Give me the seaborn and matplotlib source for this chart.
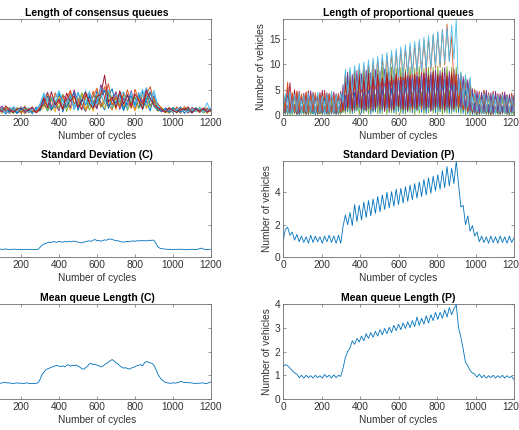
import matplotlib
matplotlib.use("Agg")
import matplotlib.pyplot as plt
import numpy as np
import pandas as pd
import seaborn as sns

# MATLAB default line colours
colors = {
    "blue": "#0072BD", "orange": "#D95319", "yellow": "#EDB120",
    "purple": "#7E2F8E", "green": "#77AC30", "cyan": "#4DBEEE", "red": "#A2142F",
}

# ---- proportional queues, one vertex every 12 cycles (peak / trough) ----
prop_green2 = [1.5, 0.1, 1.8, 0.0, 1.4, 0.2, 1.7, 0.0, 1.3, 0.1, 1.9, 0.0, 1.5, 0.2, 1.6, 0.0, 1.4, 0.1, 1.8, 0.0, 1.5, 0.2, 1.7, 0.0, 1.3, 0.1,
               2.5, 0.3, 3.5, 0.2, 3.2, 0.4, 3.8, 0.1, 3.4, 0.3, 4.0, 0.2, 3.6, 0.5, 4.1, 0.2, 3.7, 0.3, 4.2, 0.1, 3.9, 0.4, 4.3, 0.2,
               3.8, 0.3, 4.4, 0.2, 4.0, 0.5, 4.5, 0.1, 4.1, 0.3, 4.6, 0.2, 4.2, 0.4, 4.7, 0.3, 4.3, 0.2, 4.8, 0.1, 4.4, 0.3, 4.9, 0.2, 4.5, 0.4,
               4.3, 0.2, 4.0, 0.1, 3.5, 0.0, 1.8, 0.1, 1.6, 0.0, 1.4, 0.2, 1.7, 0.0, 1.5, 0.1, 1.3, 0.0, 1.6, 0.2, 1.4, 0.0, 1.5, 0.1, 1.2]
prop_blue2 = [0.2, 2.0, 0.1, 1.8, 0.3, 2.2, 0.0, 1.6, 0.2, 1.9, 0.1, 2.1, 0.3, 1.7, 0.0, 2.0, 0.2, 1.8, 0.1, 2.3, 0.0, 1.9, 0.2, 1.7, 0.1, 2.0,
              0.5, 4.0, 0.6, 5.0, 0.3, 4.6, 0.8, 5.3, 0.4, 4.8, 0.7, 5.5, 0.2, 5.0, 0.6, 5.6, 0.3, 5.2, 0.8, 5.8, 0.5, 5.4, 0.4, 5.9,
              0.7, 5.5, 0.3, 6.0, 0.6, 5.7, 0.4, 6.1, 0.8, 5.6, 0.5, 6.2, 0.3, 5.9, 0.7, 6.3, 0.4, 6.0, 0.6, 6.4, 0.5, 6.1, 0.3, 6.5, 0.6, 6.2,
              0.5, 5.5, 0.3, 5.0, 0.2, 4.2, 0.1, 2.5, 0.0, 2.2, 0.2, 1.9, 0.1, 2.1, 0.0, 1.8, 0.2, 2.0, 0.1, 1.7, 0.3, 1.9, 0.0, 2.1, 0.1]
prop_yellow = [1.5, 3.0, 0.4, 2.8, 0.2, 3.2, 0.5, 2.6, 0.3, 3.0, 0.4, 2.7, 0.2, 3.1, 0.5, 2.5, 0.3, 2.9, 0.4, 3.3, 0.2, 2.8, 0.5, 3.0, 0.3, 2.6,
               0.8, 5.5, 1.5, 6.0, 1.2, 6.4, 1.8, 5.8, 1.4, 6.6, 2.0, 6.2, 1.6, 6.9, 1.3, 6.5, 1.9, 7.1, 1.5, 6.7, 2.2, 7.3, 1.7, 6.8,
               1.4, 7.5, 2.0, 7.0, 1.6, 7.6, 2.3, 7.2, 1.8, 7.8, 1.5, 7.4, 2.1, 8.0, 1.7, 7.6, 2.4, 8.2, 1.9, 7.7, 1.6, 8.3, 2.2, 7.9, 1.8, 8.1,
               2.0, 7.5, 1.5, 6.8, 1.0, 5.5, 0.6, 3.5, 0.3, 3.2, 0.5, 3.0, 0.2, 3.3, 0.4, 2.9, 0.3, 3.1, 0.5, 2.8, 0.2, 3.0, 0.4, 2.7, 0.3]
prop_green = [0.8, 2.2, 0.3, 2.5, 0.1, 2.0, 0.4, 2.4, 0.2, 2.1, 0.3, 2.6, 0.1, 2.3, 0.4, 2.0, 0.2, 2.5, 0.3, 2.2, 0.1, 2.4, 0.3, 2.1, 0.2, 2.3,
              0.5, 8.0, 1.0, 8.8, 1.4, 9.0, 1.1, 8.7, 1.6, 9.2, 1.3, 8.9, 1.7, 9.3, 1.2, 9.0, 1.5, 9.4, 1.1, 9.1, 1.8, 9.5, 1.4, 9.2,
              1.6, 9.4, 1.3, 9.0, 1.7, 9.5, 1.2, 9.3, 1.5, 9.6, 1.4, 9.2, 1.8, 9.5, 1.3, 9.4, 1.6, 9.7, 1.2, 9.3, 1.5, 9.6, 1.7, 9.4, 1.4, 9.5,
              1.5, 8.5, 1.2, 8.0, 0.9, 7.2, 0.6, 4.0, 0.3, 3.6, 0.2, 3.3, 0.4, 3.5, 0.1, 3.2, 0.3, 3.4, 0.2, 3.1, 0.4, 3.3, 0.1, 3.0, 0.2]
prop_blue = [3.5, 0.5, 4.0, 0.3, 3.2, 0.6, 3.6, 0.2, 3.0, 0.5, 3.8, 0.4, 3.3, 0.2, 3.7, 0.6, 2.9, 0.3, 3.4, 0.5, 3.9, 0.2, 3.1, 0.4, 3.6, 0.5,
             4.5, 1.0, 7.0, 1.5, 6.5, 1.2, 7.2, 1.8, 6.8, 1.0, 7.5, 1.6, 6.9, 1.3, 7.4, 2.0, 6.6, 1.4, 7.8, 1.7, 7.0, 1.1, 7.6, 1.9,
             6.8, 1.5, 7.3, 1.2, 7.9, 1.8, 7.1, 1.4, 7.7, 2.0, 6.9, 1.6, 7.5, 1.3, 8.0, 1.9, 7.2, 1.5, 7.8, 2.1, 7.0, 1.4, 7.6, 1.8, 7.3, 1.6,
             7.5, 1.5, 7.0, 1.2, 6.5, 0.8, 4.5, 0.5, 4.0, 0.4, 3.8, 0.6, 4.2, 0.3, 3.6, 0.5, 4.0, 0.4, 3.5, 0.6, 3.9, 0.3, 3.4, 0.5, 3.6]
prop_orange2 = [0.6, 3.8, 0.4, 3.5, 0.7, 3.9, 0.3, 3.4, 0.5, 3.7, 0.2, 3.3, 0.6, 3.8, 0.4, 3.6, 0.3, 3.2, 0.5, 3.9, 0.2, 3.5, 0.4, 3.7, 0.6, 3.4,
                0.9, 6.0, 1.2, 7.0, 0.8, 6.6, 1.5, 7.3, 1.0, 6.8, 1.3, 7.5, 0.9, 7.1, 1.6, 7.6, 1.1, 7.2, 1.4, 7.8, 0.8, 7.4, 1.2, 7.9,
                1.5, 7.5, 1.0, 8.0, 1.3, 7.6, 0.9, 8.1, 1.4, 7.7, 1.1, 8.2, 1.6, 7.8, 1.0, 8.3, 1.2, 7.9, 1.5, 8.4, 0.9, 8.0, 1.3, 8.5, 1.1, 8.2,
                1.2, 8.0, 1.0, 7.4, 0.7, 6.2, 0.5, 4.2, 0.3, 3.9, 0.6, 3.6, 0.4, 4.0, 0.2, 3.7, 0.5, 3.4, 0.3, 3.8, 0.4, 3.5, 0.2, 3.3, 0.5]
prop_cyan2 = [3.0, 0.4, 3.4, 0.2, 2.9, 0.5, 3.3, 0.3, 3.1, 0.6, 2.8, 0.2, 3.5, 0.4, 3.0, 0.3, 3.2, 0.5, 2.7, 0.2, 3.4, 0.4, 3.1, 0.3, 2.9, 0.5,
              4.0, 0.8, 6.0, 1.0, 5.6, 0.7, 6.3, 1.2, 5.9, 0.9, 6.5, 1.1, 6.1, 0.6, 6.7, 1.3, 6.2, 0.8, 6.8, 1.0, 6.4, 1.2, 6.9, 0.7,
              6.5, 1.1, 7.0, 0.9, 6.6, 1.3, 7.1, 0.8, 6.7, 1.0, 7.2, 1.2, 6.8, 0.9, 7.3, 1.1, 6.9, 0.7, 7.4, 1.3, 7.0, 1.0, 7.5, 0.8, 7.1, 1.2,
              6.8, 1.0, 6.4, 0.8, 5.8, 0.5, 3.6, 0.3, 3.3, 0.5, 3.0, 0.2, 3.4, 0.4, 3.1, 0.3, 2.8, 0.5, 3.2, 0.2, 2.9, 0.4, 3.3, 0.3, 3.0]
prop_purple = [2.5, 0.3, 5.5, 0.6, 4.2, 0.4, 4.6, 0.2, 4.0, 0.5, 4.4, 0.3, 4.8, 0.6, 4.1, 0.2, 4.5, 0.4, 4.9, 0.3, 4.2, 0.5, 4.6, 0.2, 4.3, 0.4,
               6.0, 0.8, 8.5, 1.2, 8.0, 0.9, 8.8, 1.5, 8.2, 1.0, 8.9, 1.3, 8.4, 0.8, 9.0, 1.6, 8.6, 1.1, 9.1, 1.4, 8.3, 0.9, 8.8, 1.7,
               8.5, 1.2, 9.2, 1.0, 8.7, 1.5, 9.0, 1.3, 8.4, 1.8, 8.9, 1.1, 9.3, 1.4, 8.6, 1.0, 9.0, 1.6, 8.8, 1.2, 9.4, 1.5, 8.7, 1.1, 9.1, 1.7,
               8.0, 1.4, 7.6, 1.0, 7.0, 0.8, 5.2, 0.5, 4.8, 0.3, 4.5, 0.6, 4.9, 0.4, 4.4, 0.2, 4.7, 0.5, 4.2, 0.3, 4.6, 0.4, 4.1, 0.6, 4.0]
prop_orange = [4.0, 0.8, 6.5, 1.0, 4.5, 0.6, 4.8, 0.9, 4.2, 0.7, 4.6, 0.5, 4.0, 0.8, 4.4, 0.6, 4.1, 0.9, 4.5, 0.7, 4.3, 0.5, 4.0, 0.8, 4.2, 0.6,
               1.5, 8.2, 3.4, 8.5, 3.9, 9.0, 4.0, 9.4, 4.5, 9.8, 4.6, 10.2, 5.1, 10.5, 5.2, 11.0, 5.7, 11.3, 5.8, 11.8, 6.3, 12.0, 6.4, 12.5,
               6.9, 12.9, 7.0, 13.3, 7.5, 13.6, 7.6, 14.0, 8.1, 14.5, 8.2, 14.8, 8.7, 15.3, 8.8, 15.8, 9.3, 16.3, 9.4, 17.0, 9.9, 18.0, 10.7, 15.5, 6.0, 8.0,
               1.5, 8.0, 1.2, 7.5, 1.0, 6.8, 0.8, 5.0, 0.5, 4.6, 0.7, 4.8, 0.6, 4.3, 0.4, 4.5, 0.6, 4.1, 0.5, 4.4, 0.7, 3.9, 0.4, 4.2, 0.6]
prop_cyan = [1.0, 4.2, 0.5, 4.6, 0.3, 4.0, 0.6, 4.4, 0.2, 3.9, 0.5, 4.3, 0.4, 4.1, 0.3, 4.5, 0.6, 3.8, 0.2, 4.2, 0.4, 4.6, 0.3, 4.0, 0.5, 4.3,
             2.5, 9.0, 4.0, 9.4, 4.4, 9.8, 4.5, 10.2, 5.0, 10.5, 5.1, 10.9, 5.6, 11.3, 5.7, 11.6, 6.2, 12.0, 6.3, 12.4, 6.8, 12.8, 6.9, 13.1,
             7.4, 13.5, 7.5, 13.9, 8.0, 14.3, 8.1, 14.6, 8.6, 15.0, 8.7, 15.4, 9.2, 15.8, 9.3, 16.1, 9.8, 16.5, 9.9, 16.9, 10.4, 17.3, 10.5, 17.8, 11.0, 19.0,
             4.0, 8.5, 2.0, 8.0, 1.5, 7.5, 1.0, 4.5, 0.5, 4.2, 0.3, 4.4, 0.6, 4.0, 0.4, 4.3, 0.2, 3.9, 0.5, 4.1, 0.3, 3.8, 0.4, 3.6, 0.5]
prop_red = [0.5, 3.5, 0.8, 6.4, 0.6, 5.0, 0.3, 4.7, 0.5, 4.3, 0.2, 4.8, 0.4, 4.5, 0.3, 4.1, 0.6, 4.9, 0.2, 4.4, 0.5, 4.6, 0.3, 4.2, 0.4, 4.7,
            1.0, 6.5, 1.5, 7.8, 0.8, 7.2, 1.9, 8.0, 1.2, 7.5, 0.9, 8.3, 1.6, 7.7, 1.1, 8.1, 1.8, 7.4, 0.7, 8.4, 1.4, 7.9, 1.0, 8.2,
            1.7, 7.6, 1.2, 8.5, 0.9, 7.8, 1.5, 8.1, 1.1, 7.5, 1.9, 8.3, 1.3, 7.9, 0.8, 8.6, 1.6, 8.0, 1.2, 8.4, 1.0, 7.7, 1.5, 8.2, 1.3, 8.0,
            1.5, 7.8, 1.2, 7.2, 0.8, 6.5, 0.5, 5.0, 0.4, 4.6, 0.3, 4.9, 0.5, 4.4, 0.2, 4.7, 0.4, 4.2, 0.3, 4.5, 0.6, 4.0, 0.2, 4.3, 0.4]

# ---- consensus queues, one sample every 20 cycles ----
cons_blue = [0.8, 1.2, 0.3, 1.5, 0.6, 1.0, 0.2, 1.4, 0.9, 0.4, 1.3, 0.7, 1.1, 0.2, 1.6, 1.0,
             2.5, 0.8, 3.4, 1.5, 4.2, 0.6, 2.9, 3.8, 1.2, 4.5, 2.0, 0.7, 3.6, 1.8, 4.8, 2.4, 1.0, 3.9, 5.2, 1.6,
             2.8, 0.9, 4.1, 2.2, 3.5, 1.3, 4.6, 2.7, 0.8, 3.8, 1.8,
             0.7, 1.3, 0.4, 1.1, 0.9, 1.6, 0.3, 1.2, 0.8, 1.4, 0.5, 1.0, 1.3, 0.6]
cons_orange = [1.3, 0.5, 1.0, 1.7, 0.4, 1.2, 0.8, 0.3, 1.5, 1.0, 0.6, 1.8, 0.4, 1.1, 0.7, 1.6,
               3.8, 1.9, 0.9, 4.4, 2.6, 1.2, 3.3, 4.9, 1.5, 2.8, 3.9, 0.8, 2.2, 4.7, 1.4, 3.6, 5.6, 2.1, 1.0, 4.3,
               3.0, 1.7, 5.0, 2.5, 0.9, 4.0, 2.9, 1.6, 4.4, 3.2, 1.2,
               1.0, 0.4, 1.5, 0.8, 1.2, 0.3, 1.7, 0.9, 0.5, 1.3, 1.0, 0.6, 1.4, 0.8]
cons_yellow = [0.4, 1.0, 1.4, 0.6, 1.1, 0.3, 1.6, 0.8, 0.5, 1.2, 0.9, 0.2, 1.3, 1.0, 0.5, 0.9,
               1.4, 3.2, 2.0, 0.6, 3.9, 1.8, 2.7, 0.9, 3.5, 2.3, 4.2, 1.1, 2.9, 0.7, 3.6, 4.4, 1.3, 2.5, 3.8, 1.0,
               4.6, 2.0, 1.5, 3.3, 0.8, 2.6, 4.0, 1.2, 3.0, 2.1, 0.7,
               1.2, 0.8, 0.3, 1.4, 0.6, 1.0, 1.5, 0.4, 1.1, 0.7, 1.6, 0.9, 0.3, 1.1]
cons_purple = [1.1, 0.7, 1.5, 0.3, 0.9, 1.8, 0.5, 1.0, 1.3, 0.6, 1.6, 0.4, 0.9, 1.4, 0.8, 2.0,
               3.0, 4.5, 1.6, 2.4, 0.8, 4.0, 3.1, 1.4, 5.0, 2.2, 1.0, 3.7, 4.3, 2.6, 1.2, 6.0, 3.4, 1.8, 2.9, 4.6,
               1.1, 3.3, 2.0, 4.8, 1.5, 3.7, 2.4, 5.3, 1.9, 2.6, 1.5,
               0.6, 1.4, 1.0, 0.5, 1.3, 0.8, 1.1, 0.4, 1.5, 1.0, 0.7, 1.2, 0.5, 1.3]
cons_green = [0.6, 1.4, 0.9, 0.2, 1.2, 0.7, 1.3, 1.0, 0.3, 1.5, 0.6, 1.1, 0.8, 0.5, 1.2, 1.3,
              2.1, 0.9, 3.6, 2.8, 1.3, 4.1, 0.7, 3.0, 2.4, 1.6, 4.4, 3.2, 1.0, 2.7, 3.9, 1.5, 2.3, 4.7, 1.2, 3.4,
              2.0, 4.0, 0.9, 2.8, 3.6, 1.4, 2.1, 3.9, 1.6, 2.9, 1.1,
              1.5, 0.5, 1.0, 1.3, 0.4, 1.2, 0.9, 1.4, 0.6, 1.0, 1.2, 0.4, 1.1, 0.9]
cons_cyan = [1.0, 0.3, 1.2, 0.8, 1.5, 0.5, 1.1, 0.4, 1.7, 0.8, 1.2, 0.6, 1.5, 0.3, 1.0, 1.8,
             4.0, 2.3, 1.1, 3.5, 4.7, 1.9, 2.6, 4.2, 1.0, 3.3, 2.5, 4.9, 1.7, 3.9, 2.1, 5.4, 4.8, 3.0, 1.6, 4.1,
             2.7, 3.6, 1.3, 4.5, 2.2, 3.4, 5.1, 1.8, 3.2, 4.3, 2.0,
             0.9, 1.3, 0.6, 1.0, 1.4, 0.5, 1.2, 0.8, 1.1, 0.6, 1.5, 0.9, 2.4, 0.7]
cons_red = [0.7, 1.5, 0.4, 1.0, 1.3, 0.6, 1.8, 0.9, 0.5, 1.2, 1.4, 0.7, 1.0, 1.6, 0.4, 1.2,
            3.3, 1.4, 4.6, 2.0, 3.1, 1.1, 4.3, 2.7, 3.8, 1.5, 2.9, 4.5, 2.3, 1.3, 3.7, 4.0, 7.9, 2.6, 3.5, 1.4,
            4.8, 2.2, 3.9, 1.7, 4.2, 2.8, 1.2, 4.9, 3.3, 2.0, 1.4,
            1.1, 0.6, 1.4, 0.9, 0.5, 1.3, 1.0, 1.6, 0.4, 1.2, 0.8, 1.3, 0.6, 1.0]
cons_blue2 = [1.2, 0.9, 0.5, 1.3, 0.7, 1.4, 1.0, 0.6, 1.2, 0.3, 1.1, 1.5, 0.8, 0.6, 1.3, 0.8,
              2.6, 3.7, 1.0, 2.2, 4.1, 2.9, 1.5, 3.4, 4.4, 0.9, 3.1, 2.0, 3.9, 1.6, 2.8, 3.5, 4.9, 1.3, 3.0, 2.4,
              4.2, 1.0, 2.7, 3.8, 1.9, 4.4, 1.1, 3.2, 4.6, 1.7, 0.9,
              0.8, 1.2, 0.5, 1.5, 0.9, 0.6, 1.3, 1.0, 0.4, 1.4, 0.7, 1.1, 0.9, 1.2]
cons_orange2 = [0.5, 1.1, 1.6, 0.8, 0.4, 1.3, 0.9, 1.5, 0.7, 1.0, 0.4, 1.3, 1.1, 0.8, 0.6, 1.5,
                1.8, 4.2, 3.0, 1.3, 2.6, 3.8, 1.9, 4.6, 2.3, 3.3, 1.2, 4.0, 2.8, 3.6, 5.3, 1.7, 3.1, 6.2, 2.0, 3.7,
                1.5, 4.4, 2.9, 1.3, 5.1, 3.0, 2.2, 4.1, 5.6, 2.8, 2.3,
                1.3, 0.7, 1.1, 0.5, 1.6, 0.9, 1.2, 0.6, 1.3, 1.0, 0.5, 1.4, 1.0, 0.8]
cons_cyan2 = [0.9, 0.6, 1.3, 1.0, 0.5, 1.2, 0.4, 1.4, 1.1, 0.7, 1.6, 0.9, 0.5, 1.2, 1.0, 2.2,
              4.4, 2.7, 3.5, 1.5, 4.8, 3.0, 2.1, 3.9, 1.4, 4.3, 3.4, 2.2, 4.7, 1.8, 3.2, 4.1, 2.5, 5.0, 3.3, 1.9,
              3.9, 4.6, 2.4, 3.1, 1.6, 4.2, 3.5, 5.4, 2.6, 4.9, 1.6,
              1.0, 0.7, 1.3, 0.5, 1.1, 1.4, 0.8, 0.6, 1.2, 0.9, 1.3, 0.5, 1.0, 1.4]

# ---- statistics of the proportional queues, every 12 cycles ----
std_p = [0.95, 1.70, 1.85, 1.35, 1.55, 1.05, 1.40, 0.95, 1.30, 0.90, 1.25, 0.85, 1.35, 0.90, 1.30, 0.95,
         1.25, 0.85, 1.30, 0.95, 1.35, 0.90, 1.30, 0.85, 1.35, 0.85,
         1.90, 2.60, 2.00, 2.75, 1.95, 3.25, 2.20, 3.20, 2.30, 3.40, 2.45, 3.50, 2.55, 3.60, 2.70, 3.75, 2.80,
         3.85, 2.95, 4.00, 3.05, 4.05, 3.15, 4.20, 3.25, 4.25, 3.35, 4.35, 3.45, 4.45, 3.55, 4.55, 3.65, 4.65,
         3.75, 4.80, 3.85, 4.90, 3.95, 5.00, 4.10, 5.10, 4.20, 5.35, 4.30, 5.60, 4.40, 5.50, 4.55, 5.95,
         4.50, 3.10, 3.20, 2.00, 2.55, 1.60, 1.95, 1.30, 1.55, 0.95, 1.30, 0.90, 1.25, 0.85, 1.30, 0.90,
         1.25, 0.85, 1.30, 0.90, 1.25, 0.85, 1.30, 0.90, 1.20]
mean_p = [1.36, 1.45, 1.40, 1.30, 1.20, 1.10, 1.05, 0.90, 1.00, 0.88, 1.00, 0.90, 0.98, 0.88, 1.00, 0.90,
          0.98, 0.88, 1.03, 0.92, 1.00, 0.88, 1.02, 0.90, 1.00, 0.95,
          1.30, 1.75, 2.00, 2.15, 2.45, 2.30, 2.55, 2.40, 2.65, 2.45, 2.75, 2.55, 2.80, 2.60, 2.85, 2.65, 2.92,
          2.70, 2.97, 2.75, 3.02, 2.80, 3.10, 2.88, 3.15, 2.92, 3.20, 2.97, 3.25, 3.00, 3.30, 3.05, 3.45, 3.10,
          3.40, 3.15, 3.50, 3.20, 3.55, 3.30, 3.65, 3.35, 3.65, 3.40, 3.75, 3.45, 3.85, 3.55, 3.80, 3.98,
          3.00, 2.60, 2.10, 1.55, 1.40, 1.20, 1.10, 1.05, 0.92, 1.05, 0.90, 1.00, 0.88, 0.98, 0.90, 1.00,
          0.88, 0.98, 0.90, 1.00, 0.88, 0.98, 0.90, 0.95, 0.82]

# ---- statistics of the consensus queues, every 10 cycles ----
std_c = [0.50, 0.47, 0.49, 0.46, 0.48, 0.50, 0.47, 0.48, 0.46, 0.49, 0.47, 0.48, 0.50, 0.47, 0.46, 0.48,
         0.47, 0.49, 0.46, 0.48, 0.47, 0.45, 0.48, 0.47, 0.46, 0.48, 0.47, 0.46, 0.47, 0.48,
         0.60, 0.72, 0.80, 0.84, 0.88, 0.92, 0.90, 0.96, 0.93, 0.91, 0.97, 0.94, 0.92, 0.96, 0.93, 0.98,
         0.94, 0.96, 0.99, 0.95, 0.93, 0.90, 0.88, 0.92, 0.95, 0.98, 1.00, 0.97, 1.05, 1.08, 1.00, 1.03,
         0.98, 1.02, 1.06, 1.04, 1.10, 1.12, 1.08, 1.05, 1.00, 1.02, 0.96, 0.94, 0.92, 0.95, 0.97, 0.94,
         0.98, 1.00, 0.97, 1.01, 0.99, 1.03, 1.00, 1.02, 0.99, 1.04, 1.01, 1.05, 1.03,
         0.85, 0.65, 0.55, 0.52, 0.50, 0.49, 0.47, 0.48, 0.46, 0.47, 0.48, 0.46, 0.49, 0.47, 0.48, 0.46,
         0.45, 0.47, 0.46, 0.48, 0.47, 0.46, 0.48, 0.52, 0.55, 0.49, 0.47, 0.46, 0.48, 0.47]
mean_c = [0.70, 0.68, 0.69, 0.67, 0.68, 0.70, 0.68, 0.69, 0.67, 0.66, 0.68, 0.69, 0.70, 0.67, 0.68, 0.66,
          0.65, 0.67, 0.68, 0.66, 0.67, 0.65, 0.66, 0.68, 0.66, 0.65, 0.66, 0.65, 0.66, 0.68,
          0.82, 1.02, 1.12, 1.22, 1.27, 1.30, 1.34, 1.36, 1.40, 1.42, 1.38, 1.36, 1.40, 1.35, 1.42, 1.44,
          1.38, 1.42, 1.40, 1.43, 1.38, 1.34, 1.28, 1.25, 1.32, 1.38, 1.48, 1.50, 1.44, 1.46, 1.42, 1.40,
          1.35, 1.38, 1.45, 1.50, 1.55, 1.62, 1.66, 1.60, 1.52, 1.48, 1.40, 1.34, 1.30, 1.32, 1.28, 1.26,
          1.30, 1.33, 1.36, 1.40, 1.42, 1.45, 1.40, 1.52, 1.58, 1.55, 1.52, 1.50, 1.42,
          1.25, 1.05, 0.92, 0.82, 0.76, 0.70, 0.68, 0.67, 0.66, 0.68, 0.67, 0.68, 0.70, 0.74, 0.72, 0.69,
          0.70, 0.68, 0.69, 0.67, 0.66, 0.65, 0.67, 0.66, 0.68, 0.67, 0.65, 0.66, 0.69, 0.72]

# drawing order: later series end up on top
prop_series = [
    ("g2", prop_green2, "green"), ("b2", prop_blue2, "blue"), ("y", prop_yellow, "yellow"),
    ("g", prop_green, "green"), ("b", prop_blue, "blue"), ("o2", prop_orange2, "orange"),
    ("c2", prop_cyan2, "cyan"), ("r", prop_red, "red"), ("p", prop_purple, "purple"),
    ("o", prop_orange, "orange"), ("c", prop_cyan, "cyan"),
]
cons_series = [
    ("b", cons_blue, "blue"), ("o", cons_orange, "orange"), ("y", cons_yellow, "yellow"),
    ("p", cons_purple, "purple"), ("g", cons_green, "green"), ("c", cons_cyan, "cyan"),
    ("b2", cons_blue2, "blue"), ("o2", cons_orange2, "orange"), ("c2", cons_cyan2, "cyan"),
    ("r", cons_red, "red"),
]

x_ticks = [0, 200, 400, 600, 800, 1000, 1200]


def to_long(series, step):
    frames = []
    for name, vals, _ in series:
        frames.append(pd.DataFrame({"cycle": np.arange(len(vals)) * step,
                                    "value": vals, "queue": name}))
    return pd.concat(frames, ignore_index=True)


df_prop = to_long(prop_series, 12)
df_cons = to_long(cons_series, 20)

sns.set_theme(style="ticks")
plt.rcParams["font.family"] = ["Liberation Sans", "DejaVu Sans"]
plt.rcParams.update({
    "xtick.direction": "in", "ytick.direction": "in",
    "xtick.top": True, "ytick.right": True,
    "xtick.major.size": 2.2, "ytick.major.size": 2.2,
    "xtick.major.width": 0.5, "ytick.major.width": 0.5,
    "xtick.major.pad": 2.5, "ytick.major.pad": 2.0,
    "axes.linewidth": 0.6, "axes.edgecolor": "#6e6e6e",
    "xtick.color": "#6e6e6e", "ytick.color": "#6e6e6e",
    "xtick.labelcolor": "#333333", "ytick.labelcolor": "#333333",
    "xtick.labelsize": 7.3, "ytick.labelsize": 7.3,
    "axes.labelsize": 7.3, "axes.labelcolor": "#333333",
})

W, H = 519, 430
fig = plt.figure(figsize=(W / 100, H / 100), dpi=100, facecolor="white")


def make_ax(x0, x1, top, bottom):
    return fig.add_axes([x0 / W, 1 - bottom / H, (x1 - x0) / W, (bottom - top) / H])


rows = [(19, 115), (161, 257), (304, 399)]
left_cols = (-17, 211)
right_cols = (283, 514)

ax_cq = make_ax(*left_cols, *rows[0])
ax_pq = make_ax(*right_cols, *rows[0])
ax_cs = make_ax(*left_cols, *rows[1])
ax_ps = make_ax(*right_cols, *rows[1])
ax_cm = make_ax(*left_cols, *rows[2])
ax_pm = make_ax(*right_cols, *rows[2])

sns.lineplot(data=df_cons, x="cycle", y="value", hue="queue",
             hue_order=[s[0] for s in cons_series],
             palette={s[0]: colors[s[2]] for s in cons_series},
             estimator=None, legend=False, linewidth=0.7, ax=ax_cq)
sns.lineplot(data=df_prop, x="cycle", y="value", hue="queue",
             hue_order=[s[0] for s in prop_series],
             palette={s[0]: colors[s[2]] for s in prop_series},
             estimator=None, legend=False, linewidth=0.6, ax=ax_pq)

sns.lineplot(x=np.arange(len(std_c)) * 10, y=std_c, color=colors["blue"], linewidth=0.6, ax=ax_cs)
sns.lineplot(x=np.arange(len(std_p)) * 12, y=std_p, color=colors["blue"], linewidth=0.6, ax=ax_ps)
sns.lineplot(x=np.arange(len(mean_c)) * 10, y=mean_c, color=colors["blue"], linewidth=0.6, ax=ax_cm)
sns.lineplot(x=np.arange(len(mean_p)) * 12, y=mean_p, color=colors["blue"], linewidth=0.6, ax=ax_pm)


def style(ax, title, ylim, yticks, ylabel=None):
    ax.set_xlim(0, 1200)
    ax.set_xticks(x_ticks)
    ax.set_ylim(*ylim)
    ax.set_yticks(yticks)
    ax.set_title(title, fontsize=7.5, fontweight="bold", color="black", pad=2.5)
    ax.set_xlabel("Number of cycles", labelpad=1.5)
    if ylabel:
        ax.set_ylabel(ylabel, labelpad=2)
    else:
        # left column: its y axis lies outside the cropped picture
        ax.set_ylabel("")
        ax.set_yticklabels([])
        ax.set_xticklabels([""] + [str(t) for t in x_ticks[1:]])
    for s in ax.spines.values():
        s.set_visible(True)


style(ax_cq, "Length of consensus queues", (0, 19), [0, 5, 10, 15])
style(ax_pq, "Length of proportional queues", (0, 19), [0, 5, 10, 15], "Number of vehicles")
style(ax_cs, "Standard Deviation (C)", (0, 5.95), [0, 2, 4])
style(ax_ps, "Standard Deviation (P)", (0, 5.95), [0, 2, 4], "Number of vehicles")
style(ax_cm, "Mean queue Length (C)", (0, 4), [0, 1, 2, 3, 4])
style(ax_pm, "Mean queue Length (P)", (0, 4), [0, 1, 2, 3, 4], "Number of vehicles")

fig.savefig("out.png", dpi=100, facecolor="white")
